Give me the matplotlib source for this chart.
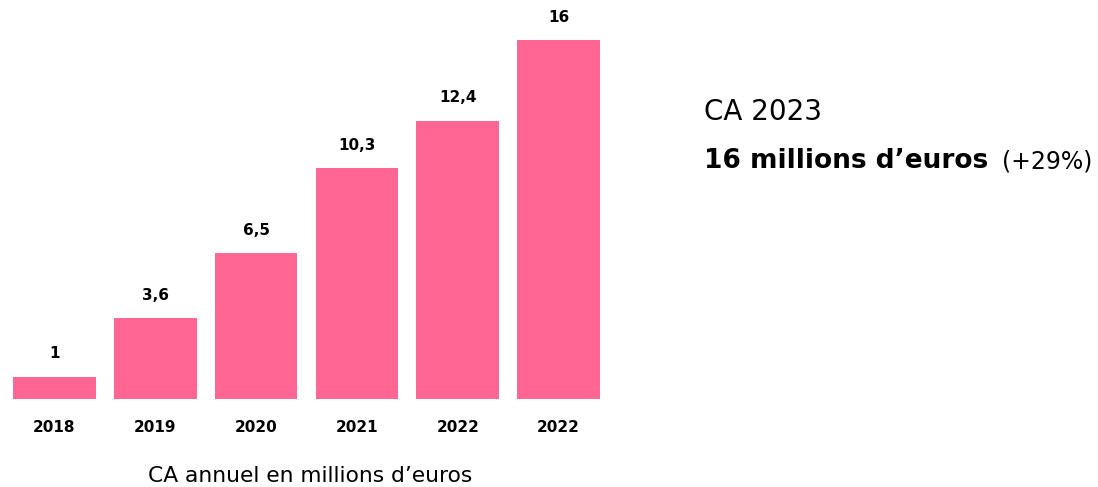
import matplotlib.pyplot as plt

# CA annuel en millions d'euros
annees = ["2018", "2019", "2020", "2021", "2022", "2022"]
ca = [1, 3.6, 6.5, 10.3, 12.4, 16]
etiquettes = ["1", "3,6", "6,5", "10,3", "12,4", "16"]

rose = "#FF6694"
plt.rcParams['font.family'] = ['DejaVu Sans']

fig = plt.figure(figsize=(10.98, 4.87), dpi=100)
ax = fig.add_axes([13 / 1098, 88 / 487, 587 / 1098, 359 / 487])

x = range(len(ca))
barres = ax.bar(x, ca, width=0.82, color=rose)
for b, txt in zip(barres, etiquettes):
    ax.annotate(txt, (b.get_x() + b.get_width() / 2, b.get_height()),
                xytext=(0, 11), textcoords="offset points",
                ha="center", va="bottom", fontsize=11, fontweight="bold")

ax.set_xlim(-0.41, len(ca) - 0.59)
ax.set_ylim(0, 16)
ax.set_xticks(list(x))
ax.set_xticklabels(annees, fontsize=11, fontweight="bold")
ax.tick_params(axis="x", length=0, pad=15)
ax.set_yticks([])
for s in ax.spines.values():
    s.set_visible(False)

fig.text(310 / 1098, 1 - 476 / 487, "CA annuel en millions d\u2019euros",
         ha="center", va="center", fontsize=15.7)

fig.text(704 / 1098, 1 - 112 / 487, "CA 2023", ha="left", va="center", fontsize=20)
fig.text(704 / 1098, 1 - 161 / 487, "16 millions d\u2019euros", ha="left", va="center",
         fontsize=19, fontweight="bold")
fig.text(1092 / 1098, 1 - 161 / 487, "(+29%)", ha="right", va="center", fontsize=17)

fig.savefig("out.png", dpi=100)
